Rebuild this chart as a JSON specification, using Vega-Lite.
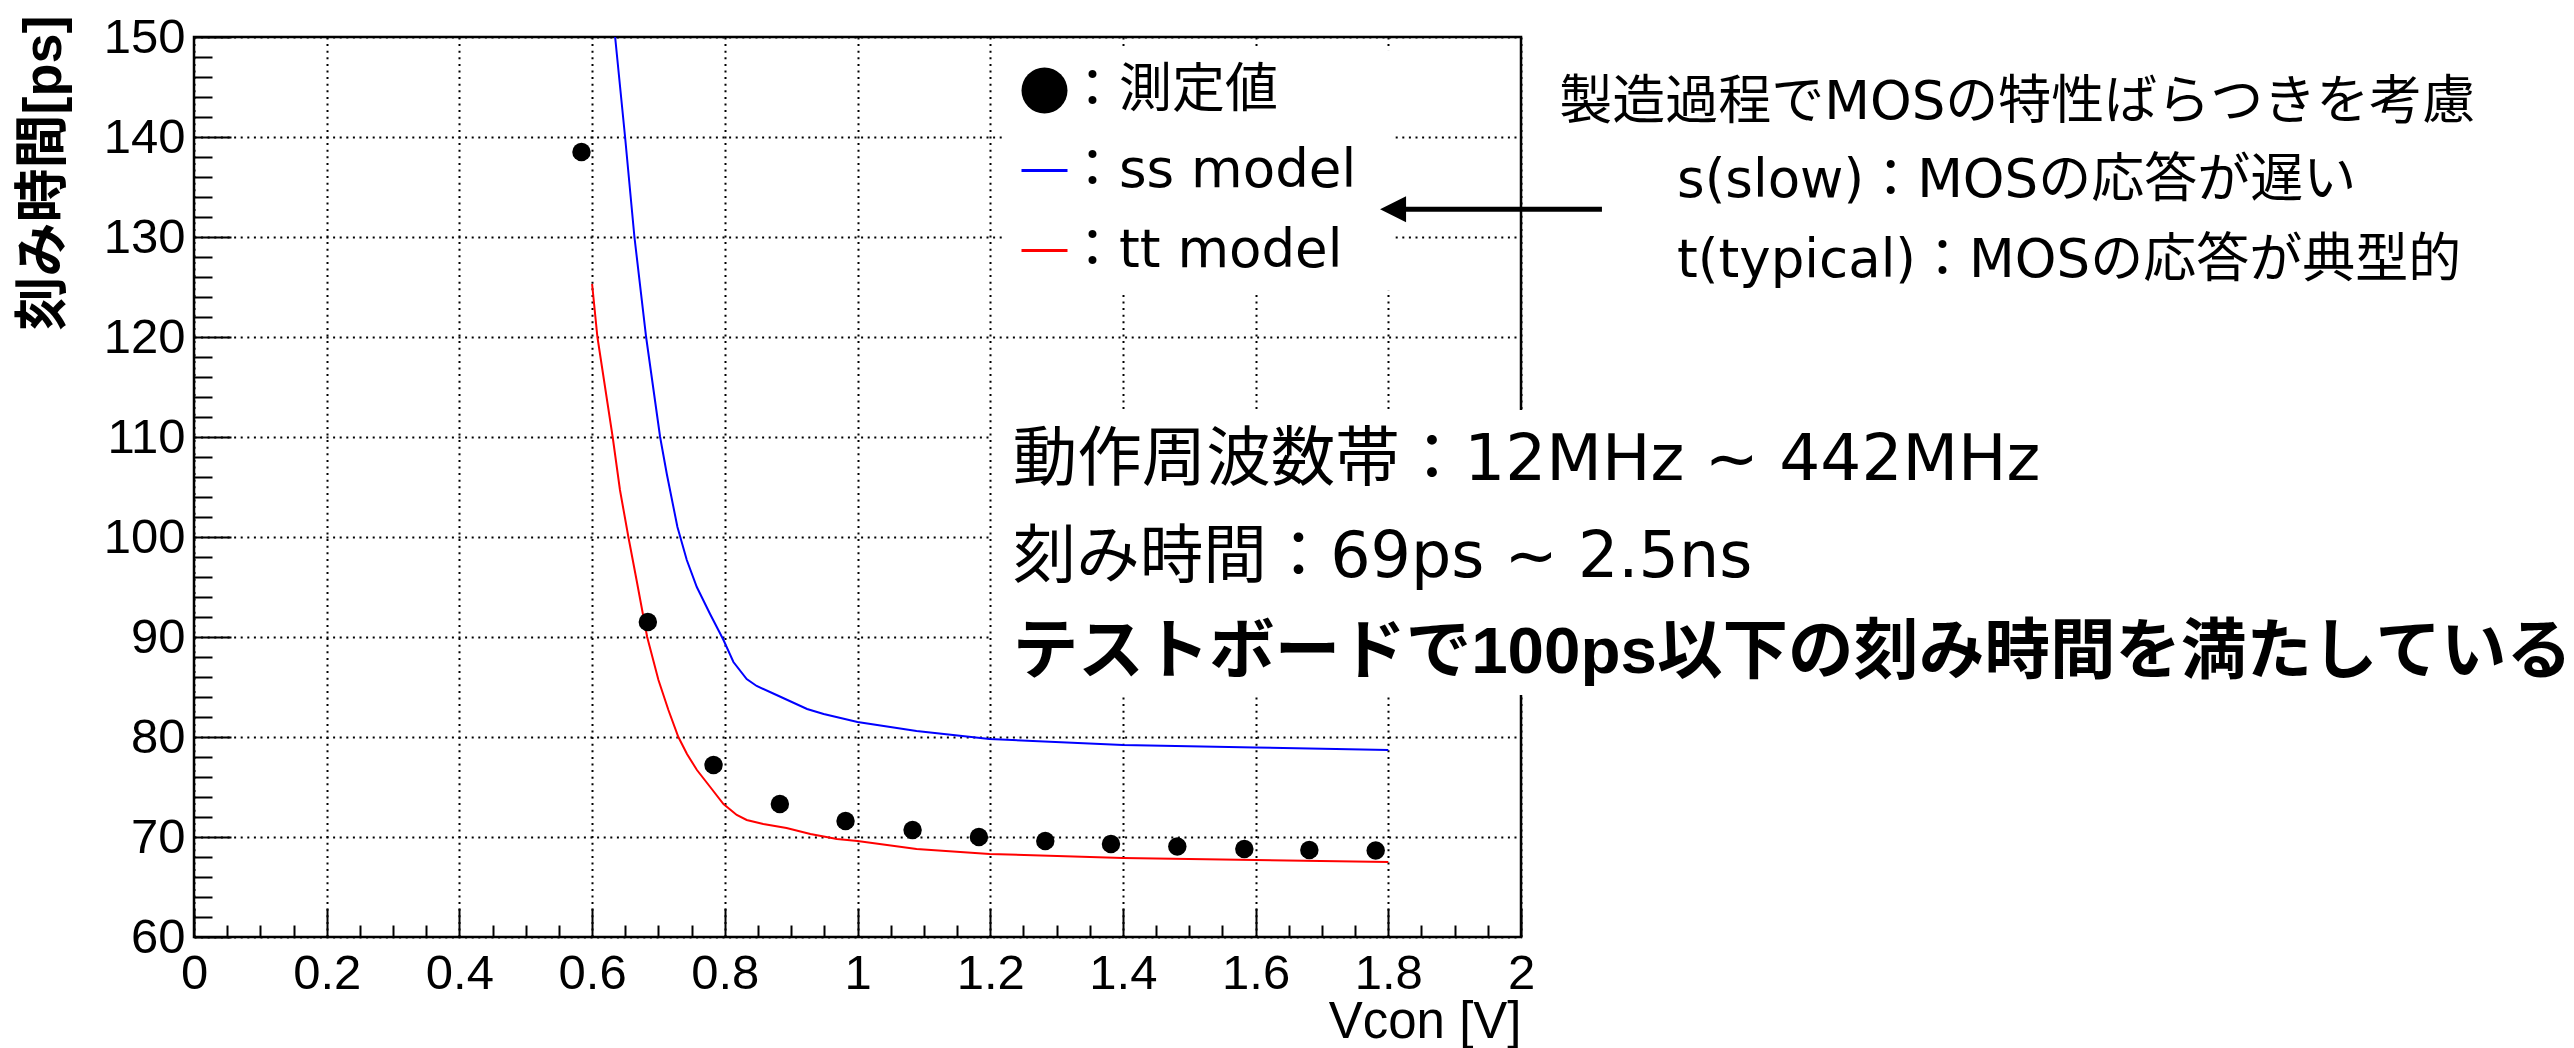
{
  "$schema": "https://vega.github.io/schema/vega-lite/v6.json",
  "width": 1327,
  "height": 900,
  "autosize": {"type": "none"},
  "padding": {"left": 194, "top": 37, "right": 1053, "bottom": 111},
  "background": "white",
  "config": {
    "view": {"stroke": "black", "strokeWidth": 2.5},
    "axis": {
      "domain": false,
      "tickColor": "black",
      "tickWidth": 2,
      "gridColor": "black",
      "gridWidth": 2,
      "gridDash": [2, 4.6],
      "gridOpacity": 1,
      "labelFont": "Liberation Sans",
      "labelFontSize": 49,
      "labelColor": "black",
      "titleColor": "black",
      "labelFlush": false,
      "labelOverlap": false
    },
    "legend": {
      "orient": "none",
      "legendX": 810,
      "legendY": 13,
      "fillColor": "white",
      "padding": 14,
      "symbolSize": 2116,
      "symbolStrokeWidth": 0,
      "labelFont": "DejaVu Sans, Noto Sans CJK JP",
      "labelFontSize": 53,
      "labelColor": "black",
      "labelOffset": -5,
      "rowPadding": 26,
      "labelLimit": 800
    }
  },
  "resolve": {"axis": {"x": "independent", "y": "independent"}},
  "layer": [
    {
      "data": {"values": [{}]},
      "mark": {"type": "rect", "fill": "white"},
      "encoding": {
        "x": {"datum": 1.2035, "type": "quantitative", "scale": {"domain": [0, 2], "nice": false, "zero": false}, "axis": null},
        "x2": {"datum": 2.02},
        "y": {"datum": 112.7, "type": "quantitative", "scale": {"domain": [60, 150], "nice": false, "zero": false}, "axis": null},
        "y2": {"datum": 84.2}
      }
    },
    {
      "data": {"values": [{}]},
      "mark": {"type": "rect", "fill": "white"},
      "encoding": {
        "x": {"datum": 1.2285, "type": "quantitative", "scale": {"domain": [0, 2], "nice": false, "zero": false}, "axis": null},
        "x2": {"datum": 1.81},
        "y": {"datum": 148.67, "type": "quantitative", "scale": {"domain": [60, 150], "nice": false, "zero": false}, "axis": null},
        "y2": {"datum": 124.67}
      }
    },
    {
      "data": {"values": [
        {"series": "ss model", "vcon": 0.6, "time": 178},
        {"series": "ss model", "vcon": 0.6347, "time": 150},
        {"series": "ss model", "vcon": 0.6497, "time": 140},
        {"series": "ss model", "vcon": 0.6638, "time": 130},
        {"series": "ss model", "vcon": 0.6814, "time": 120},
        {"series": "ss model", "vcon": 0.7025, "time": 110},
        {"series": "ss model", "vcon": 0.7126, "time": 106.3},
        {"series": "ss model", "vcon": 0.7286, "time": 101},
        {"series": "ss model", "vcon": 0.7427, "time": 97.7},
        {"series": "ss model", "vcon": 0.7578, "time": 95.0},
        {"series": "ss model", "vcon": 0.7778, "time": 92.3},
        {"series": "ss model", "vcon": 0.798, "time": 89.7},
        {"series": "ss model", "vcon": 0.813, "time": 87.5},
        {"series": "ss model", "vcon": 0.833, "time": 85.8},
        {"series": "ss model", "vcon": 0.848, "time": 85.1},
        {"series": "ss model", "vcon": 0.878, "time": 84.2},
        {"series": "ss model", "vcon": 0.924, "time": 82.8},
        {"series": "ss model", "vcon": 0.949, "time": 82.3},
        {"series": "ss model", "vcon": 1.0, "time": 81.5},
        {"series": "ss model", "vcon": 1.089, "time": 80.6},
        {"series": "ss model", "vcon": 1.199, "time": 79.8},
        {"series": "ss model", "vcon": 1.4, "time": 79.2},
        {"series": "ss model", "vcon": 1.599, "time": 78.95},
        {"series": "ss model", "vcon": 1.8, "time": 78.7},
        {"series": "tt model", "vcon": 0.6, "time": 125.3},
        {"series": "tt model", "vcon": 0.608, "time": 120},
        {"series": "tt model", "vcon": 0.631, "time": 110},
        {"series": "tt model", "vcon": 0.642, "time": 104.7},
        {"series": "tt model", "vcon": 0.6547, "time": 100},
        {"series": "tt model", "vcon": 0.667, "time": 95.7},
        {"series": "tt model", "vcon": 0.683, "time": 90},
        {"series": "tt model", "vcon": 0.7, "time": 85.7},
        {"series": "tt model", "vcon": 0.715, "time": 82.7},
        {"series": "tt model", "vcon": 0.73, "time": 80},
        {"series": "tt model", "vcon": 0.743, "time": 78.3},
        {"series": "tt model", "vcon": 0.758, "time": 76.7},
        {"series": "tt model", "vcon": 0.778, "time": 75.0},
        {"series": "tt model", "vcon": 0.798, "time": 73.3},
        {"series": "tt model", "vcon": 0.818, "time": 72.2},
        {"series": "tt model", "vcon": 0.833, "time": 71.7},
        {"series": "tt model", "vcon": 0.858, "time": 71.3},
        {"series": "tt model", "vcon": 0.893, "time": 70.9},
        {"series": "tt model", "vcon": 0.929, "time": 70.3},
        {"series": "tt model", "vcon": 0.969, "time": 69.8},
        {"series": "tt model", "vcon": 1.0, "time": 69.6},
        {"series": "tt model", "vcon": 1.089, "time": 68.8},
        {"series": "tt model", "vcon": 1.199, "time": 68.3},
        {"series": "tt model", "vcon": 1.4, "time": 67.9},
        {"series": "tt model", "vcon": 1.599, "time": 67.7},
        {"series": "tt model", "vcon": 1.8, "time": 67.5}
      ]},
      "mark": {"type": "line", "strokeWidth": 2, "clip": true},
      "encoding": {
        "x": {"field": "vcon", "type": "quantitative", "scale": {"domain": [0, 2], "nice": false, "zero": false},
          "axis": {"orient": "bottom", "values": [0.05,0.1,0.15,0.25,0.3,0.35,0.45,0.5,0.55,0.65,0.7,0.75,0.85,0.9,0.95,1.05,1.1,1.15,1.25,1.3,1.35,1.45,1.5,1.55,1.65,1.7,1.75,1.85,1.9,1.95], "labels": false, "grid": false, "tickSize": -12, "title": null}},
        "y": {"field": "time", "type": "quantitative", "scale": {"domain": [60, 150], "nice": false, "zero": false},
          "axis": {"orient": "left", "values": [62,64,66,68,72,74,76,78,82,84,86,88,92,94,96,98,102,104,106,108,112,114,116,118,122,124,126,128,132,134,136,138,142,144,146,148], "labels": false, "grid": false, "tickSize": -18, "title": null}},
        "color": {"field": "series", "type": "nominal", "scale": {"domain": ["測定値", "ss model", "tt model"], "range": ["black", "#0000ff", "#ff0000"]},
          "legend": {"title": null, "labelExpr": "'：' + datum.label"}}
      }
    },
    {
      "data": {"values": [
        {"series": "測定値", "vcon": 0.584, "time": 138.5},
        {"series": "測定値", "vcon": 0.684, "time": 91.5},
        {"series": "測定値", "vcon": 0.783, "time": 77.2},
        {"series": "測定値", "vcon": 0.883, "time": 73.3},
        {"series": "測定値", "vcon": 0.982, "time": 71.6},
        {"series": "測定値", "vcon": 1.083, "time": 70.7},
        {"series": "測定値", "vcon": 1.183, "time": 70.0},
        {"series": "測定値", "vcon": 1.283, "time": 69.6},
        {"series": "測定値", "vcon": 1.382, "time": 69.3},
        {"series": "測定値", "vcon": 1.482, "time": 69.05},
        {"series": "測定値", "vcon": 1.583, "time": 68.8},
        {"series": "測定値", "vcon": 1.681, "time": 68.7},
        {"series": "測定値", "vcon": 1.781, "time": 68.65}
      ]},
      "mark": {"type": "point", "filled": true, "opacity": 1, "size": 340},
      "encoding": {
        "x": {"field": "vcon", "type": "quantitative", "scale": {"domain": [0, 2], "nice": false, "zero": false},
          "axis": {"orient": "bottom", "values": [0, 0.2, 0.4, 0.6, 0.8, 1, 1.2, 1.4, 1.6, 1.8, 2], "format": "~g", "tickSize": -29, "labelPadding": 41, "grid": true,
            "title": "Vcon [V]", "titleFont": "Liberation Sans", "titleFontSize": 51, "titleFontWeight": "normal", "titleAlign": "right", "titleBaseline": "alphabetic", "titleX": 1327, "titleY": 100}},
        "y": {"field": "time", "type": "quantitative", "scale": {"domain": [60, 150], "nice": false, "zero": false},
          "axis": {"orient": "left", "values": [60, 70, 80, 90, 100, 110, 120, 130, 140, 150], "format": "d", "tickSize": -37, "labelPadding": 46, "grid": true,
            "title": "刻み時間[ps]", "titleFont": "Liberation Sans, Noto Sans CJK JP", "titleFontSize": 54, "titleFontWeight": "bold", "titleAngle": -90, "titleAlign": "right", "titleBaseline": "alphabetic", "titleX": -134, "titleY": -22}},
        "color": {"field": "series", "type": "nominal", "scale": {"domain": ["測定値", "ss model", "tt model"], "range": ["black", "#0000ff", "#ff0000"]},
          "legend": {"title": null, "labelExpr": "'：' + datum.label"}},
        "shape": {"field": "series", "type": "nominal", "scale": {"domain": ["測定値", "ss model", "tt model"], "range": ["circle", "M-1,-0.07H1V0.07H-1Z", "M-1,-0.07H1V0.07H-1Z"]},
          "legend": {"title": null, "labelExpr": "'：' + datum.label"}}
      }
    },
    {
      "data": {"values": [{}]},
      "mark": {"type": "rule", "strokeWidth": 5, "color": "black"},
      "encoding": {
        "x": {"datum": 1.825, "type": "quantitative", "scale": {"domain": [0, 2], "nice": false, "zero": false}, "axis": null},
        "x2": {"datum": 2.122},
        "y": {"datum": 132.77, "type": "quantitative", "scale": {"domain": [60, 150], "nice": false, "zero": false}, "axis": null}
      }
    },
    {
      "data": {"values": [{}]},
      "mark": {"type": "point", "shape": "M-1,0L1,-1L1,1Z", "size": 676, "filled": true, "opacity": 1, "color": "black"},
      "encoding": {
        "x": {"datum": 1.8072, "type": "quantitative", "scale": {"domain": [0, 2], "nice": false, "zero": false}, "axis": null},
        "y": {"datum": 132.77, "type": "quantitative", "scale": {"domain": [60, 150], "nice": false, "zero": false}, "axis": null}
      }
    },
    {
      "data": {"values": [
        {"label": "製造過程でMOSの特性ばらつきを考慮", "ax": 2.0576, "ay": 141.84},
        {"label": "s(slow)：MOSの応答が遅い", "ax": 2.2352, "ay": 134.0},
        {"label": "t(typical)：MOSの応答が典型的", "ax": 2.2352, "ay": 126.0}
      ]},
      "mark": {"type": "text", "align": "left", "baseline": "alphabetic", "font": "DejaVu Sans, Noto Sans CJK JP", "fontSize": 53, "color": "black"},
      "encoding": {
        "x": {"field": "ax", "type": "quantitative", "scale": {"domain": [0, 2], "nice": false, "zero": false}, "axis": null},
        "y": {"field": "ay", "type": "quantitative", "scale": {"domain": [60, 150], "nice": false, "zero": false}, "axis": null},
        "text": {"field": "label"}
      }
    },
    {
      "data": {"values": [
        {"label": "動作周波数帯：12MHz ~ 442MHz", "ax": 1.2339, "ay": 105.67}
      ]},
      "mark": {"type": "text", "align": "left", "baseline": "alphabetic", "font": "DejaVu Sans, Noto Sans CJK JP", "fontSize": 64.5, "color": "black"},
      "encoding": {
        "x": {"field": "ax", "type": "quantitative", "scale": {"domain": [0, 2], "nice": false, "zero": false}, "axis": null},
        "y": {"field": "ay", "type": "quantitative", "scale": {"domain": [60, 150], "nice": false, "zero": false}, "axis": null},
        "text": {"field": "label"}
      }
    },
    {
      "data": {"values": [
        {"label": "刻み時間：69ps ~ 2.5ns", "ax": 1.2339, "ay": 95.97}
      ]},
      "mark": {"type": "text", "align": "left", "baseline": "alphabetic", "font": "DejaVu Sans, Noto Sans CJK JP", "fontSize": 63.5, "color": "black"},
      "encoding": {
        "x": {"field": "ax", "type": "quantitative", "scale": {"domain": [0, 2], "nice": false, "zero": false}, "axis": null},
        "y": {"field": "ay", "type": "quantitative", "scale": {"domain": [60, 150], "nice": false, "zero": false}, "axis": null},
        "text": {"field": "label"}
      }
    },
    {
      "data": {"values": [
        {"label": "テストボードで100ps以下の刻み時間を満たしている", "ax": 1.2339, "ay": 86.37}
      ]},
      "mark": {"type": "text", "align": "left", "baseline": "alphabetic", "font": "Liberation Sans, Noto Sans CJK JP", "fontSize": 65.5, "fontWeight": "bold", "color": "black"},
      "encoding": {
        "x": {"field": "ax", "type": "quantitative", "scale": {"domain": [0, 2], "nice": false, "zero": false}, "axis": null},
        "y": {"field": "ay", "type": "quantitative", "scale": {"domain": [60, 150], "nice": false, "zero": false}, "axis": null},
        "text": {"field": "label"}
      }
    }
  ]
}
